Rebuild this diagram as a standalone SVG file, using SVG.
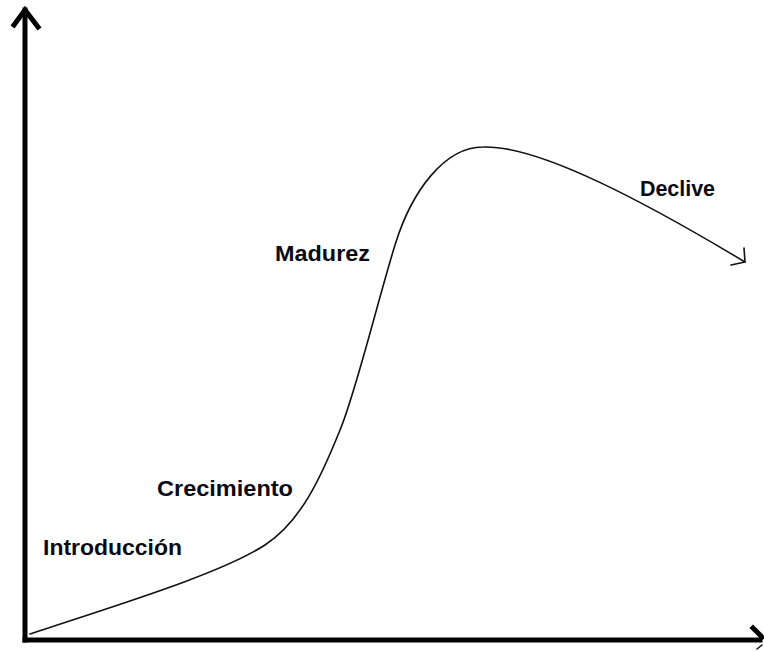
<svg xmlns="http://www.w3.org/2000/svg" width="764" height="652" viewBox="0 0 764 652">
<style>
.axis{fill:none;stroke:#000;stroke-width:5;stroke-linecap:square;stroke-linejoin:miter}
.curve{fill:none;stroke:#111;stroke-width:1.6;stroke-linecap:round;stroke-linejoin:round}
.lbl{font-family:"Liberation Sans",Arial,sans-serif;font-weight:bold;font-size:22px;fill:#0a0a14}
</style>
<rect width="764" height="652" fill="#fff"/>
<g id="connectors">
<g id="y-axis">
<path class="axis" d="M25,640 V10"/>
<path class="axis" d="M14,25 L25,10 L38,27"/>
</g>
<g id="x-axis">
<path class="axis" d="M25,640 H760"/>
<path class="axis" d="M753,628 L762,637"/>
<path class="curve" d="M757,649 L762,645"/>
</g>
<g id="curve">
<path class="curve" d="M30,634 C120,604 220,574 265,545 C300,522 320,480 340,430 C355,395 378,300 395,245 C412,190 445,147 483,147 C540,145 650,205 745,262"/>
<path class="curve" d="M744,248 L745,262 L731,265"/>
</g>
</g>
<g id="introduccion"><text class="lbl" x="43" y="555" textLength="139" lengthAdjust="spacingAndGlyphs">Introducción</text></g>
<g id="crecimiento"><text class="lbl" x="157" y="496" textLength="136" lengthAdjust="spacingAndGlyphs">Crecimiento</text></g>
<g id="madurez"><text class="lbl" x="275" y="261" textLength="95" lengthAdjust="spacingAndGlyphs">Madurez</text></g>
<g id="declive"><text class="lbl" x="640" y="196" textLength="75" lengthAdjust="spacingAndGlyphs">Declive</text></g>
</svg>
